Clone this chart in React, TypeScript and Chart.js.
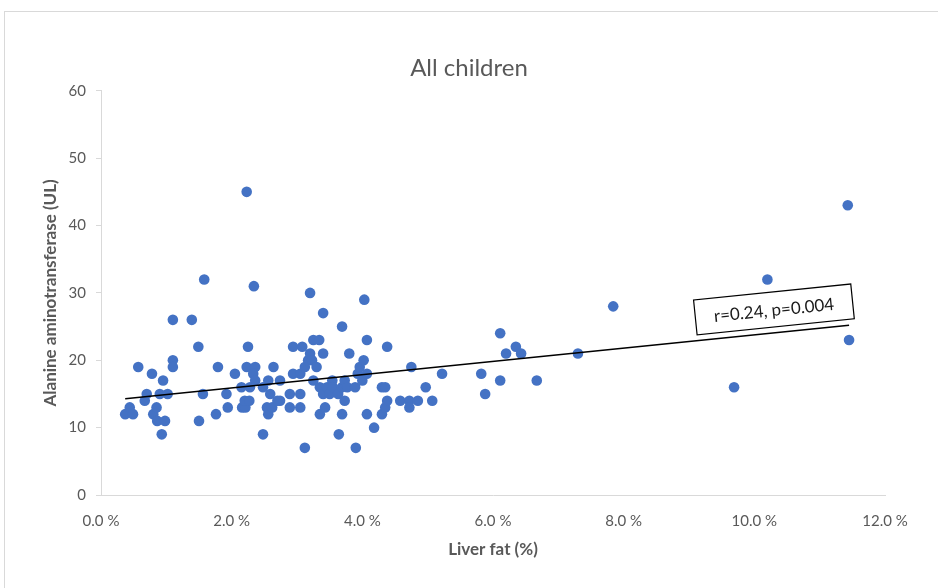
import React, { useEffect, useRef } from "react";
import { Chart, registerables } from "chart.js";

Chart.register(...registerables);

// Liver fat (%) and ALT (UL) for each child
const liverFat = [
  0.37, 0.44, 0.49, 0.57, 0.67, 0.7, 0.78, 0.8, 0.85, 0.86, 0.9, 0.93, 0.95, 0.98, 1.02,
  1.1, 1.1, 1.1, 1.39, 1.49, 1.5, 1.56, 1.58, 1.76, 1.79, 1.92, 1.94, 2.05, 2.15, 2.16,
  2.21, 2.2, 2.27, 2.23, 2.25, 2.23, 2.28, 2.34, 2.36, 2.33, 2.36, 2.48, 2.48, 2.54, 2.56,
  2.56, 2.59, 2.62, 2.64, 2.7, 2.74, 2.74, 2.89, 2.89, 2.94, 2.94, 3.05, 3.05, 3.05, 3.08,
  3.12, 3.12, 3.17, 3.2, 3.2, 3.23, 3.25, 3.25, 3.3, 3.34, 3.35, 3.35, 3.4, 3.4, 3.4,
  3.43, 3.46, 3.5, 3.54, 3.55, 3.63, 3.64, 3.69, 3.69, 3.69, 3.73, 3.73, 3.77, 3.8, 3.89,
  3.9, 3.93, 3.96, 4.0, 4.02, 4.03, 4.07, 4.07, 4.07, 4.18, 4.3, 4.35, 4.3, 4.35, 4.38,
  4.38, 4.58, 4.72, 4.72, 4.75, 4.85, 4.97, 5.07, 5.22, 5.82, 5.88, 6.11, 6.11, 6.2, 6.35,
  6.43, 6.67, 7.3, 7.84, 9.69, 10.2, 11.43, 11.45,
];
const alt = [
  12, 13, 12, 19, 14, 15, 18, 12, 13, 11, 15, 9, 17, 11, 15,
  26, 20, 19, 26, 22, 11, 15, 32, 12, 19, 15, 13, 18, 16, 13,
  13, 14, 14, 45, 22, 19, 16, 31, 19, 18, 17, 16, 9, 13, 17,
  12, 15, 13, 19, 14, 17, 14, 15, 13, 22, 18, 18, 15, 13, 22,
  7, 19, 20, 30, 21, 20, 23, 17, 19, 23, 16, 12, 27, 21, 15,
  13, 16, 15, 17, 16, 15, 9, 25, 16, 12, 17, 14, 16, 21, 16,
  7, 18, 19, 17, 20, 29, 23, 18, 12, 10, 16, 16, 12, 13, 14,
  22, 14, 14, 13, 19, 14, 16, 14, 18, 18, 15, 24, 17, 21, 22,
  21, 17, 21, 28, 16, 32, 43, 23,
];

// Linear trend line end points
const trendX = [0.37, 11.45];
const trendY = [14.3, 25.2];

// Axis ticks
const xTicks = [0, 2, 4, 6, 8, 10, 12];
const yTicks = [0, 10, 20, 30, 40, 50, 60];

// Correlation label and its anchor (data units)
const annotationText = "r=0.24, p=0.004";
const annotationAt = [10.3, 27.55];

const FONT = "Lato, 'Open Sans', sans-serif";

const annotationPlugin = {
  id: "corrLabel",
  afterDatasetsDraw(chart: any) {
    const { ctx, scales } = chart;
    const cx = scales.x.getPixelForValue(annotationAt[0]);
    const cy = scales.y.getPixelForValue(annotationAt[1]);
    ctx.save();
    ctx.translate(cx, cy);
    ctx.rotate((-5.8 * Math.PI) / 180);
    const w = 158;
    const h = 35;
    ctx.fillStyle = "#ffffff";
    ctx.fillRect(-w / 2, -h / 2, w, h);
    ctx.strokeStyle = "#000000";
    ctx.lineWidth = 1.2;
    ctx.strokeRect(-w / 2, -h / 2, w, h);
    ctx.fillStyle = "#1a1a1a";
    ctx.font = `17px ${FONT}`;
    ctx.textAlign = "center";
    ctx.textBaseline = "middle";
    ctx.fillText(annotationText, 0, 1);
    ctx.restore();
  },
};

export default function App() {
  const canvasRef = useRef<HTMLCanvasElement | null>(null);

  useEffect(() => {
    if (!canvasRef.current) return;
    const points = liverFat.map((x, i) => ({ x, y: alt[i] }));
    const trend = trendX.map((x, i) => ({ x, y: trendY[i] }));
    const chart = new Chart(canvasRef.current, {
      type: "scatter",
      data: {
        datasets: [
          {
            type: "line",
            label: "Trend",
            data: trend,
            borderColor: "#000000",
            borderWidth: 1.5,
            pointRadius: 0,
            fill: false,
            order: 0,
          } as any,
          {
            label: "All children",
            data: points,
            backgroundColor: "#4472C4",
            borderColor: "#4472C4",
            borderWidth: 0,
            pointRadius: 5.3,
            order: 1,
          },
        ],
      },
      options: {
        responsive: false,
        animation: false,
        devicePixelRatio: 1,
        layout: { padding: { left: 32, right: 32, top: 0, bottom: 0 } },
        plugins: {
          legend: { display: false },
          tooltip: { enabled: false },
          title: {
            display: true,
            text: "All children",
            color: "#595959",
            font: { family: FONT, size: 24, weight: "normal" },
            padding: { top: 54, bottom: 8 },
          },
        },
        scales: {
          x: {
            type: "linear",
            min: 0,
            max: 12,
            afterBuildTicks: (s: any) => {
              s.ticks = xTicks.map((v) => ({ value: v }));
            },
            afterFit: (s: any) => {
              s.height = 93;
            },
            ticks: {
              color: "#595959",
              font: { family: FONT, size: 15 },
              padding: 17,
              maxRotation: 0,
              callback: (v: any) => Number(v).toFixed(1) + " %",
            },
            grid: { display: false, drawTicks: false },
            border: { display: true, color: "#d9d9d9", width: 1 },
            title: {
              display: true,
              text: "Liver fat (%)",
              color: "#595959",
              font: { family: FONT, size: 17, weight: "bold" },
              padding: { top: 10, bottom: 28 },
            },
          },
          y: {
            type: "linear",
            min: 0,
            max: 60,
            afterBuildTicks: (s: any) => {
              s.ticks = yTicks.map((v) => ({ value: v }));
            },
            afterFit: (s: any) => {
              s.width = 69;
            },
            ticks: {
              color: "#595959",
              font: { family: FONT, size: 15 },
              padding: 10,
            },
            grid: {
              display: true,
              drawOnChartArea: false,
              drawTicks: true,
              tickLength: 5,
              color: "#d9d9d9",
            },
            border: { display: true, color: "#d9d9d9", width: 1 },
            title: {
              display: true,
              text: "Alanine aminotransferase (UL)",
              color: "#595959",
              font: { family: FONT, size: 17, weight: "bold" },
              padding: { top: 8, bottom: 0 },
            },
          },
          yRightSpace: {
            type: "linear",
            position: "right",
            display: true,
            min: 0,
            max: 60,
            afterFit: (s: any) => {
              s.width = 21;
            },
            ticks: { display: false },
            grid: { display: false, drawTicks: false },
            border: { display: false },
          },
        },
      },
      plugins: [annotationPlugin],
    });
    return () => chart.destroy();
  }, []);

  return (
    <div
      style={{
        position: "fixed",
        left: 0,
        top: 0,
        width: 938,
        height: 588,
        background: "#ffffff",
        overflow: "hidden",
      }}
    >
      <div
        style={{
          position: "absolute",
          left: 4,
          top: 11,
          width: 960,
          height: 600,
          border: "1px solid #d9d9d9",
        }}
      />
      <canvas
        ref={canvasRef}
        width={938}
        height={588}
        style={{ position: "absolute", left: 0, top: 0, width: 938, height: 588 }}
      />
    </div>
  );
}
